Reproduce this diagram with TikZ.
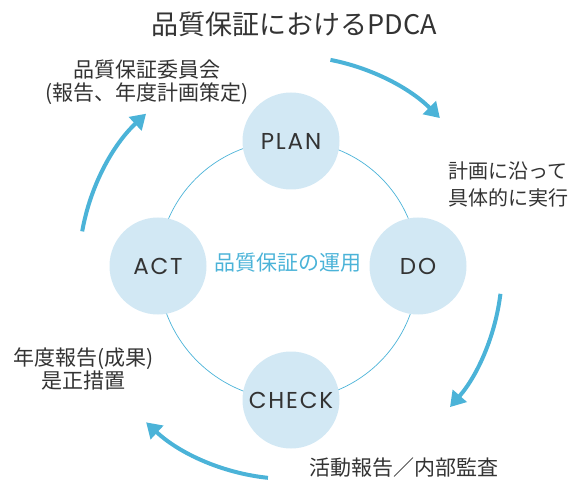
\documentclass[tikz,border=0pt]{standalone}
\usepackage{fontspec}
\setmainfont{Noto Sans CJK JP}
\newfontfamily\stagefont[LetterSpace=8]{Poppins}
\usetikzlibrary{arrows.meta,backgrounds}

\definecolor{pdcablue}{HTML}{4BB3D8}
\definecolor{pdcapale}{HTML}{D2E8F4}
\definecolor{pdcatext}{HTML}{333333}

\tikzset{
    stage/.style={circle, fill=pdcapale, minimum size=97pt, inner sep=0pt,
        text=pdcatext, font=\stagefont\fontsize{23}{27}\selectfont},
    ring/.style={pdcablue, line width=0.7pt},
    cyclearrow/.style={pdcablue, line width=4pt, -{Triangle[length=15pt,width=18pt]}},
    note/.style={text=pdcatext, align=center},
}

\begin{document}
\begin{tikzpicture}[x=1pt,y=1pt]
    \useasboundingbox (0,0) rectangle (576,480);

    \node[text=pdcatext, font=\fontsize{27}{31}\selectfont] (title) at (294,456) {品質保証におけるPDCA};

    % the four stages
    \coordinate (o) at (290,212);
    \node[stage] (plan) at (291,339) {PLAN};
    \node[stage] (do) at (418,214) {DO};
    \node[stage] (check) at (291,80) {CHECK};
    \node[stage] (act) at (158,214) {ACT};
        \node[text=pdcablue, font=\fontsize{21}{25}\selectfont] (use) at (288,217) {品質保証の運用};

    \begin{scope}[on background layer]
        \draw[ring] (plan.center) to[bend left=45] (do.center);
        \draw[ring] (do.center) to[bend left=45] (check.center);
        \draw[ring] (check.center) to[bend left=45] (act.center);
        \draw[ring] (act.center) to[bend left=45] (plan.center);
    \end{scope}

    % outer arrows
    \draw[cyclearrow] (o) ++(79:212) arc[start angle=79, end angle=45, radius=212];
    \draw[cyclearrow] (o) ++(-7:212) arc[start angle=-7, end angle=-41, radius=212];
    \draw[cyclearrow] (o) ++(-96:211) arc[start angle=-96, end angle=-133, radius=211];
    \draw[cyclearrow] (o) ++(170:211) arc[start angle=170, end angle=133, radius=211];

    % notes
    \node[note, font=\fontsize{21}{23}\selectfont] (committee) at (147,398) {品質保証委員会\\(報告、年度計画策定)};
    \node[note, font=\fontsize{20}{27}\selectfont] (carry) at (508,296) {計画に沿って\\具体的に実行};
    \node[note, font=\fontsize{21}{25}\selectfont] (audit) at (404,12) {活動報告／内部監査};
    \node[note, font=\fontsize{21}{23}\selectfont] (report) at (84,111) {年度報告(成果)\\是正措置};
\end{tikzpicture}
\end{document}
